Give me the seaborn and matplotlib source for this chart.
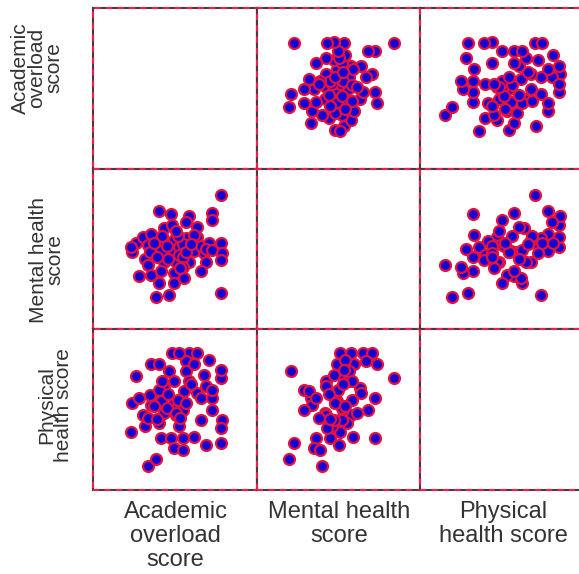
import matplotlib
matplotlib.use("Agg")
import matplotlib.pyplot as plt
import seaborn as sns
import pandas as pd

# Student survey scores (one entry per respondent)
academic_overload = [13.2, 12.0, 14.2, 15.2, 11.7, 15.8, 16.8, 17.8, 17.8, 16.8,
                     17.3, 20.3, 19.3, 21.8, 20.3, 20.8, 21.8, 20.8, 20.3, 23.3,
                     23.8, 24.0, 24.8, 24.8, 25.4, 24.8, 24.8, 29.4, 28.4, 28.4,
                     29.4, 27.9, 26.4, 27.4, 26.4, 27.4, 27.4, 31.9, 31.9, 30.9,
                     33.9, 34.5, 32.9, 33.0, 35.5, 30.9, 34.5, 39.0, 39.0, 36.5,
                     36.5, 39.0, 36.5, 39.5, 39.0, 22.5, 26.0, 19.5, 23.0, 28.5,
                     21.0, 25.5, 30.0, 18.5, 26.5]
mental_health = [26.8, 24.0, 16.5, 28.8, 25.5, 22.0, 20.1, 29.8, 17.0, 26.2,
                 24.0, 36.7, 10.0, 31.6, 27.5, 24.4, 20.9, 18.0, 14.4, 10.6,
                 36.0, 32.4, 27.8, 24.2, 21.1, 17.5, 14.4, 35.3, 33.4, 28.3,
                 21.1, 16.0, 25.5, 26.5, 23.0, 22.5, 19.5, 31.9, 28.8, 24.4,
                 23.7, 21.1, 18.0, 26.0, 27.0, 29.5, 25.0, 41.9, 11.3, 36.3,
                 34.0, 26.8, 24.7, 23.7, 21.6, 26.0, 29.0, 22.5, 22.0, 24.0,
                 29.0, 30.5, 26.5, 27.0, 19.0]
physical_health = [35.4, 27.1, 28.6, 23.4, 17.9, 19.8, 7.5, 39.1, 26.6, 22.5,
                   29.5, 39.1, 9.6, 31.8, 20.8, 27.6, 24.0, 16.2, 31.0, 37.0,
                   16.2, 42.5, 33.9, 27.1, 23.4, 13.0, 25.0, 42.7, 40.1, 37.0,
                   33.9, 30.7, 42.5, 25.0, 19.8, 16.2, 12.5, 30.2, 42.5, 39.1,
                   35.9, 32.3, 28.6, 21.9, 40.6, 16.5, 14.1, 34.9, 14.6, 28.6,
                   25.0, 37.3, 31.0, 21.9, 19.3, 25.5, 28.0, 22.0, 30.0, 27.0,
                   34.0, 24.0, 33.0, 26.0, 22.5]

variables = ["Academic overload score", "Mental health score", "Physical health score"]
labels_bottom = ["Academic\noverload\nscore", "Mental health\nscore", "Physical\nhealth score"]
labels_left = ["Academic\noverload\nscore", "Mental health\nscore", "Physical\nhealth score"]

df = pd.DataFrame({
    variables[0]: academic_overload,
    variables[1]: mental_health,
    variables[2]: physical_health,
})

sns.set_style("white")
plt.rcParams["font.family"] = ["Liberation Sans", "DejaVu Sans"]

W, H = 579, 574
g = sns.PairGrid(df, vars=variables, height=2, aspect=1)
g.map_offdiag(sns.scatterplot, s=62, color="#1400d4", edgecolor="#e4123f",
              linewidth=1.6, alpha=1)

fig = g.figure
fig.set_size_inches(W / 100, H / 100)
fig.subplots_adjust(left=93 / W, right=584 / W, top=1 - 8 / H, bottom=1 - 490 / H,
                    wspace=0, hspace=0)

for ax in g.axes.flat:
    ax.set_xlim(0, 50)
    ax.set_ylim(0, 50)
    ax.set_xticks([])
    ax.set_yticks([])
    ax.set_xlabel("")
    ax.set_ylabel("")
    for sp in ax.spines.values():
        sp.set_visible(True)
        sp.set_color("#4a3a40")
        sp.set_linewidth(1.5)
    ax.plot([0, 1, 1, 0, 0], [0, 0, 1, 1, 0], transform=ax.transAxes,
            color="#f0204e", lw=1.5, ls=(0, (3, 2.5)), clip_on=False, zorder=5)

# Column titles under the grid
col_centers = [175.5, 339.5, 503]
for cx, lab in zip(col_centers, labels_bottom):
    fig.text(cx / W, 1 - 501 / H, lab, ha="center", va="top", fontsize=17,
             color="#333333", linespacing=1.12)

# Row titles left of the grid
row_pos = [(37, 68), (47, 260), (55, 405)]
for (x, y), lab in zip(row_pos, labels_left):
    fig.text(x / W, 1 - y / H, lab, ha="center", va="center", rotation=90,
             fontsize=15, color="#333333", linespacing=0.85)

fig.savefig("out.png", dpi=100)
